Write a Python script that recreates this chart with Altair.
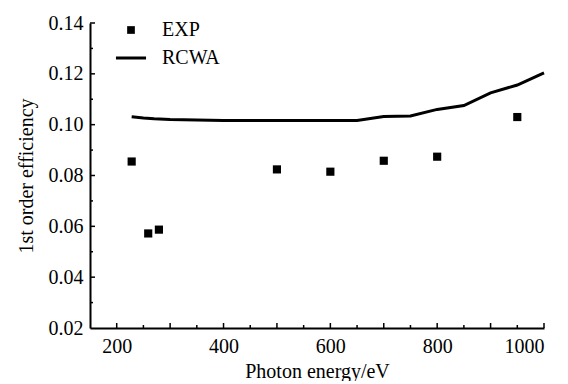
import altair as alt
import pandas as pd

# EXP data
exp_energy = [228, 259, 279, 500, 600, 700, 800, 950]
exp_eff = [0.0855, 0.0572, 0.0587, 0.0824, 0.0815, 0.0858, 0.0874, 0.1030]

# RCWA simulation
rcwa_energy = [228, 250, 270, 300, 350, 400, 450, 500, 550, 600, 650, 700, 750, 800, 850, 900, 950, 1000]
rcwa_eff = [0.1031, 0.1026, 0.1023, 0.1020, 0.1018, 0.1016, 0.1016, 0.1016, 0.1016, 0.1016, 0.1016,
            0.1032, 0.1034, 0.1060, 0.1075, 0.1125, 0.1156, 0.1204]

series_names = ["EXP", "RCWA"]

x_major = [200, 300, 400, 500, 600, 700, 800, 900, 1000]
x_minor = [250, 350, 450, 550, 650, 750, 850, 950]
x_labels = [200, 400, 600, 800, 1000]
y_major = [0.04, 0.06, 0.08, 0.10, 0.12, 0.14]
y_minor = [0.03, 0.05, 0.07, 0.09, 0.11, 0.13]
y_labels = [0.02, 0.04, 0.06, 0.08, 0.10, 0.12, 0.14]

W, H = 454, 305
FONT = "Liberation Serif"

exp_df = pd.DataFrame({"E": exp_energy, "eff": exp_eff, "series": "EXP"})
rcwa_df = pd.DataFrame({"E": rcwa_energy, "eff": rcwa_eff, "series": "RCWA"})

xscale = alt.Scale(domain=[150, 1000], nice=False, zero=False)
yscale = alt.Scale(domain=[0.02, 0.14], nice=False, zero=False)

xaxis = alt.Axis(values=x_labels, format="d", title="Photon energy/eV", ticks=False, grid=False,
                 labelPadding=8, titlePadding=5)
yaxis = alt.Axis(values=y_labels, format=".2f", title="1st order efficiency", ticks=False,
                 grid=False, labelPadding=7, titlePadding=12)

line = alt.Chart(rcwa_df).mark_line(color="black", strokeWidth=3).encode(
    x=alt.X("E:Q", scale=xscale, axis=xaxis),
    y=alt.Y("eff:Q", scale=yscale, axis=yaxis),
)

points = alt.Chart(exp_df).mark_point(filled=True, color="black", size=55, opacity=1).encode(
    x=alt.X("E:Q", scale=xscale),
    y=alt.Y("eff:Q", scale=yscale),
    shape=alt.Shape("series:N",
                    scale=alt.Scale(domain=series_names,
                                    range=["M-1.1,-1.1H1.1V1.1H-1.1Z",
                                           "M-4.3,-0.43H4.3V0.43H-4.3Z"]),
                    legend=alt.Legend(title=None, orient="none", legendX=31, legendY=-3,
                                      symbolSize=49, symbolStrokeWidth=0,
                                      symbolFillColor="black",
                                      labelFont=FONT, labelFontSize=20, labelColor="black",
                                      rowPadding=8, labelOffset=21, symbolOffset=0)),
)

xmaj = alt.Chart(pd.DataFrame({"v": x_major})).mark_rule(color="black", strokeWidth=1.5).encode(
    x=alt.X("v:Q", scale=xscale), y=alt.value(H), y2=alt.value(H - 5))
xmin = alt.Chart(pd.DataFrame({"v": x_minor})).mark_rule(color="black", strokeWidth=1.5).encode(
    x=alt.X("v:Q", scale=xscale), y=alt.value(H), y2=alt.value(H - 3))
ymaj = alt.Chart(pd.DataFrame({"v": y_major})).mark_rule(color="black", strokeWidth=1.5).encode(
    y=alt.Y("v:Q", scale=yscale), x=alt.value(0), x2=alt.value(5))
ymin = alt.Chart(pd.DataFrame({"v": y_minor})).mark_rule(color="black", strokeWidth=1.5).encode(
    y=alt.Y("v:Q", scale=yscale), x=alt.value(0), x2=alt.value(3))

chart = alt.layer(line, points, xmaj, xmin, ymaj, ymin).properties(
    width=W, height=H,
    background="white",
    padding={"left": 8, "top": 5, "right": 0, "bottom": 0},
).configure_view(stroke=None).configure_axis(
    labelFont=FONT, labelFontSize=20, labelColor="black",
    titleFont=FONT, titleFontSize=20, titleColor="black", titleFontWeight="normal",
    domainColor="black", domainWidth=2,
)

chart.save("out.html", embed_options={"renderer": "svg", "actions": False})
